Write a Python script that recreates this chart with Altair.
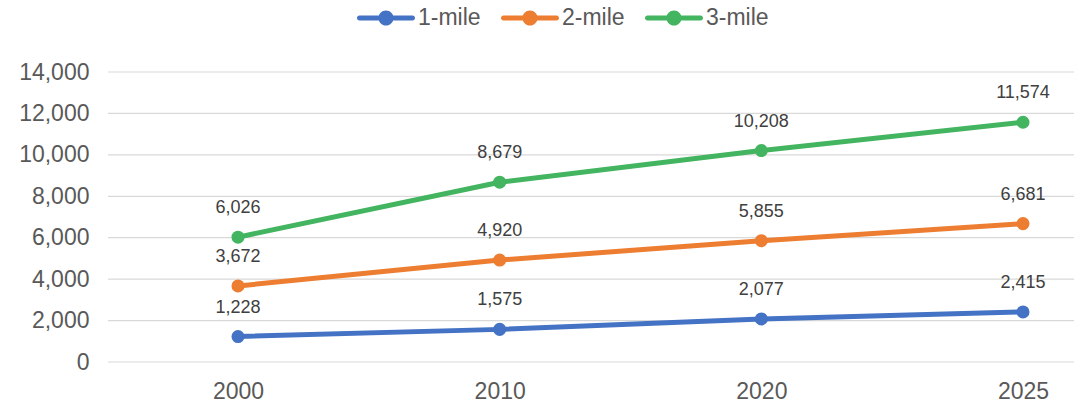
import altair as alt
import pandas as pd

years = ["2000", "2010", "2020", "2025"]
series = ["1-mile", "2-mile", "3-mile"]
one_mile = [1228, 1575, 2077, 2415]
two_mile = [3672, 4920, 5855, 6681]
three_mile = [6026, 8679, 10208, 11574]
colors = ["#4472C4", "#ED7D31", "#43B45F"]
y_ticks = [0, 2000, 4000, 6000, 8000, 10000, 12000, 14000]

rows = []
for name, vals in zip(series, [one_mile, two_mile, three_mile]):
    for yr, v in zip(years, vals):
        rows.append({"year": yr, "series": name, "value": v})
df = pd.DataFrame(rows)
grid_df = pd.DataFrame({"value": y_ticks})

FONT = "Liberation Sans"

legend_path = (
    "M-0.914,-0.086 L0.914,-0.086 A0.086,0.086 0 0,1 0.914,0.086 "
    "L-0.914,0.086 A0.086,0.086 0 0,1 -0.914,-0.086 Z "
    "M0.26,0 A0.26,0.26 0 1,1 -0.26,0 A0.26,0.26 0 1,1 0.26,0 Z"
)

x_enc = alt.X(
    "year:O",
    sort=years,
    scale=alt.Scale(range=[130, 915], padding=0),
    axis=alt.Axis(
        title=None, labelAngle=0, ticks=False, domain=False, grid=False,
        labelFontSize=23, labelColor="#595959", labelFont=FONT, labelPadding=18,
    ),
)
y_scale = alt.Scale(domain=[0, 14000], nice=False)
y_axis = alt.Axis(
    title=None, values=y_ticks, format=",.0f", ticks=False, domain=False,
    grid=False,
    labelFontSize=23, labelColor="#595959", labelFont=FONT, labelPadding=19,
)
y_enc = alt.Y("value:Q", scale=y_scale, axis=y_axis)
color_scale = alt.Scale(domain=series, range=colors)

grid = alt.Chart(grid_df).mark_rule(color="#D9D9D9", strokeWidth=1.2).encode(
    y=alt.Y("value:Q", scale=y_scale, axis=y_axis)
)

base = alt.Chart(df).encode(x=x_enc, y=y_enc)

lines = base.mark_line(strokeWidth=5, strokeCap="round").encode(
    stroke=alt.Stroke("series:N", scale=color_scale, legend=None),
    detail="series:N",
)
points = base.mark_point(filled=True, size=170, opacity=1).encode(
    color=alt.Color(
        "series:N",
        scale=color_scale,
        legend=alt.Legend(
            title=None, orient="none", direction="horizontal",
            legendX=249, legendY=-83,
            symbolType=legend_path, symbolSize=3364, symbolStrokeWidth=0,
            symbolOpacity=1,
            labelFontSize=23, labelColor="#595959", labelFont=FONT,
            labelOffset=3, columnPadding=20,
        ),
    )
)
labels = base.mark_text(dy=-29, fontSize=18, color="#404040", font=FONT).encode(
    text=alt.Text("value:Q", format=",")
)

chart = (
    alt.layer(grid, lines, points, labels)
    .resolve_scale(stroke="independent")
    .properties(
        width=966, height=290,
        autosize=alt.AutoSizeParams(type="none"),
        padding={"left": 108, "top": 72, "right": 0, "bottom": 45},
        background="white",
    )
    .configure_view(stroke=None)
)

chart.save("out.html", embed_options={"renderer": "svg", "actions": False})
